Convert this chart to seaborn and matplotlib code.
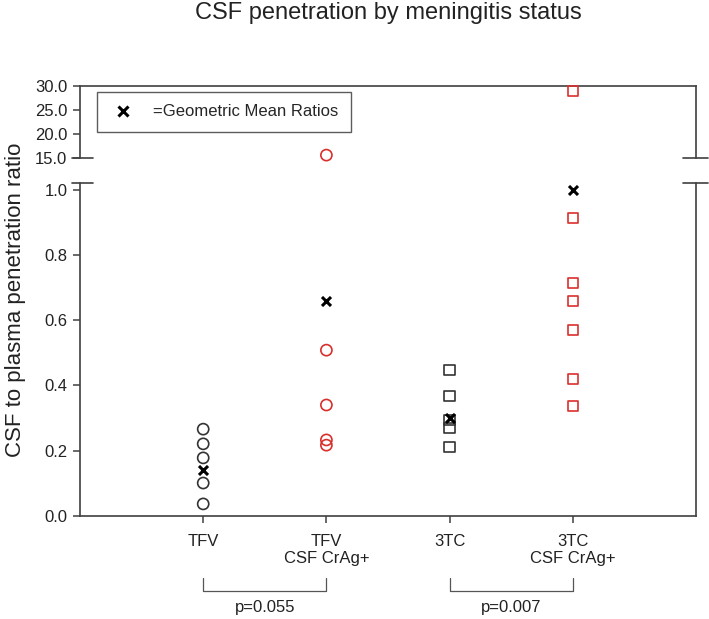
import numpy as np
import pandas as pd
import matplotlib
matplotlib.use("Agg")
import matplotlib.pyplot as plt
import matplotlib.transforms as mtransforms
from matplotlib.lines import Line2D
import seaborn as sns

# values
groups = ["TFV", "TFV\nCSF CrAg+", "3TC", "3TC\nCSF CrAg+"]
tfv = [0.266, 0.221, 0.178, 0.101, 0.037]
tfv_crag = [15.6, 0.508, 0.340, 0.233, 0.217]
tc3 = [0.447, 0.368, 0.294, 0.270, 0.211]
tc3_crag = [29.0, 0.913, 0.714, 0.658, 0.570, 0.420, 0.337]
geo_means = [0.14, 0.66, 0.30, 1.0]
p_values = ["p=0.055", "p=0.007"]

sns.set_style("white")
plt.rcParams["font.family"] = ["Liberation Sans", "DejaVu Sans"]

df = pd.DataFrame({
    "group": [groups[0]] * len(tfv) + [groups[1]] * len(tfv_crag)
             + [groups[2]] * len(tc3) + [groups[3]] * len(tc3_crag),
    "ratio": tfv + tfv_crag + tc3 + tc3_crag,
})
gm = pd.DataFrame({"group": groups, "ratio": geo_means})

black = "#333333"
red = "#d9302c"
spine_col = "#404040"

fig = plt.figure(figsize=(7.09, 6.19), dpi=100)
left, width = 80 / 709, 616 / 709
ax_bot = fig.add_axes([left, 1 - 516 / 619, width, 333 / 619])
ax_top = fig.add_axes([left, 1 - 158 / 619, width, 72 / 619])

styles = {groups[0]: ("o", black), groups[1]: ("o", red),
          groups[2]: ("s", black), groups[3]: ("s", red)}

for ax, lo, hi in [(ax_bot, 0, 1.02), (ax_top, 15, 30)]:
    sub = df[(df.ratio >= lo) & (df.ratio <= hi)]
    for g, (m, c) in styles.items():
        part = sub[sub.group == g]
        if part.empty:
            continue
        sns.stripplot(data=part, x="group", y="ratio", order=groups, jitter=False,
                      marker=m, color="none", edgecolor=c, linewidth=1.2,
                      size=8 if m == "o" else 7.5, ax=ax, zorder=3)
    gsub = gm[(gm.ratio >= lo) & (gm.ratio <= hi)]
    if not gsub.empty:
        sns.stripplot(data=gsub, x="group", y="ratio", order=groups, jitter=False,
                      marker="x", color="black", linewidth=2.2, size=6.5, ax=ax,
                      zorder=4)
    for coll in ax.collections:
        if len(coll.get_offsets()):
            coll.set_clip_on(False)
    ax.set_xlim(-1, 4)
    ax.set_ylim(lo, hi)
    ax.set_xlabel("")
    ax.set_ylabel("")
    for s in ax.spines.values():
        s.set_color(spine_col)
        s.set_linewidth(1.2)
    ax.tick_params(axis="both", direction="out", length=5, width=1.1,
                   color=spine_col, labelsize=12, pad=4, labelcolor="#222222")

# lower panel
ax_bot.set_yticks([0.0, 0.2, 0.4, 0.6, 0.8, 1.0])
ax_bot.set_yticklabels(["0.0", "0.2", "0.4", "0.6", "0.8", "1.0"])
ax_bot.yaxis.get_major_ticks()[-1].tick1line.set_visible(False)
ax_bot.spines["top"].set_visible(False)
ax_bot.set_xticks(range(len(groups)))
ax_bot.set_xticklabels(groups)
ax_bot.tick_params(axis="x", pad=8)
ax_bot.tick_params(axis="both", left=True, bottom=True)

# upper panel
ax_top.set_yticks([15, 20, 25, 30])
ax_top.set_yticklabels(["15.0", "20.0", "25.0", "30.0"])
ax_top.spines["bottom"].set_visible(False)
ax_top.set_xticks([])
ax_top.tick_params(axis="y", left=True)

# break marks
for ax, yy in [(ax_bot, 1.0), (ax_top, 0.0)]:
    for x0, x1 in [(-0.013, 0.021), (0.979, 1.02)]:
        ax.add_line(Line2D([x0, x1], [yy, yy], transform=ax.transAxes,
                           color=spine_col, lw=1.2, clip_on=False))

# legend
handle = Line2D([], [], marker="x", color="black", ls="none", markersize=6.5, mew=2.2)
leg = ax_top.legend([handle], ["=Geometric Mean Ratios"], loc="upper left",
                    bbox_to_anchor=(17 / 616, 1 - 6 / 72), frameon=True, fancybox=False,
                    fontsize=12, borderpad=0.75, handletextpad=1.0, borderaxespad=0,
                    handlelength=1.6)
leg.get_frame().set_edgecolor(black)
leg.get_frame().set_linewidth(1.0)

# significance brackets
trans = mtransforms.blended_transform_factory(ax_bot.transData, ax_bot.transAxes)
for (a, b), p in zip([(0, 1), (2, 3)], p_values):
    ax_bot.plot([a, a, b, b], [-0.186, -0.225, -0.225, -0.186], transform=trans,
                color="#555555", lw=0.9, clip_on=False)
    ax_bot.text((a + b) / 2, -0.276, p, transform=trans, ha="center", va="center",
                fontsize=12, color="#222222")

fig.text(388 / 709, 1 - 19 / 619, "CSF penetration by meningitis status",
         ha="center", va="baseline", fontsize=17, color="#222222")
fig.text(16 / 709, 1 - 300 / 619, "CSF to plasma penetration ratio",
         ha="center", va="center", rotation=90, fontsize=16, color="#222222")

fig.savefig("out.png", dpi=100)
